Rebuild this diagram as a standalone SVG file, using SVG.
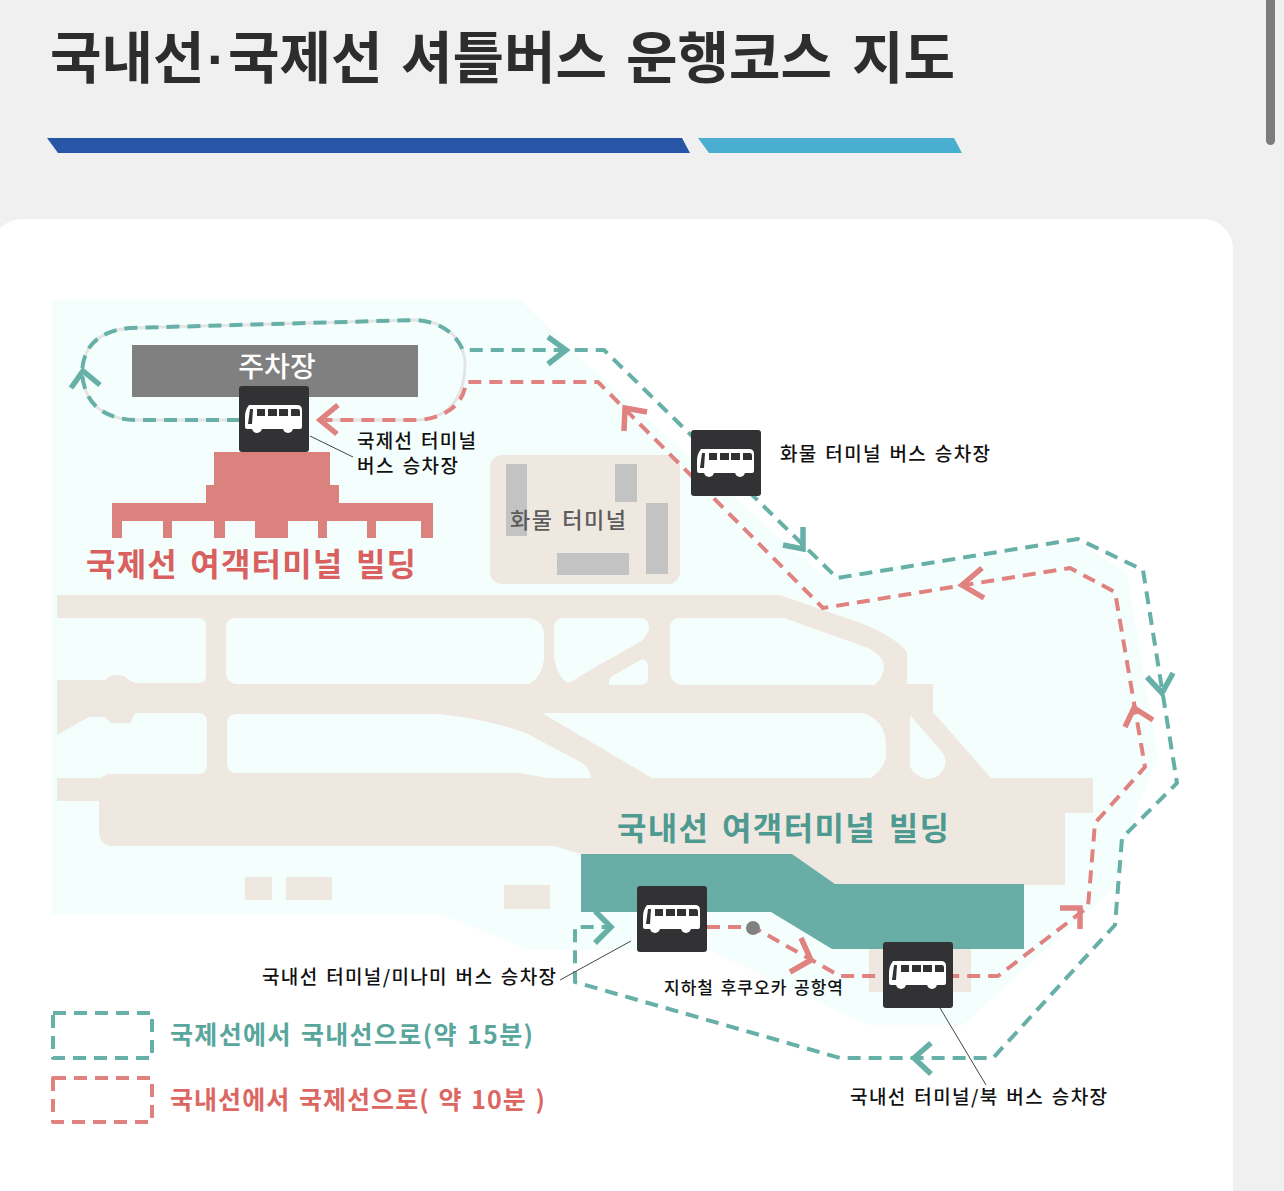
<svg xmlns="http://www.w3.org/2000/svg" width="1284" height="1191" viewBox="0 0 1284 1191">
<style>
text{font-family:"Noto Sans CJK KR","Noto Sans",sans-serif}
.lbl{font-size:19px;font-weight:500;fill:#111;word-spacing:2px}
.be{fill:#efe8e1}
.gr{fill:#f4fffd}
.cg{fill:#c3c3c3}
.d{fill:none;stroke-width:4;stroke-dasharray:13 8;stroke-linejoin:round}
.t{stroke:#67b0a7}
.r{stroke:#e08280}
.h{fill:none;stroke-width:5.5}
.lead{stroke:#444;stroke-width:1;fill:none}
.bx{fill:#323234}
</style>
<defs>
<g id="bus">
<rect class="bx" width="70" height="66" rx="3"/>
<path fill="#fff" d="M10 19H58Q63 19 63 24V41Q63 43 61 43H8Q6 43 6 41V31Q6 24 10 19Z"/>
<circle cx="18" cy="42" r="5" fill="#fff"/><circle cx="49" cy="42" r="5" fill="#fff"/>
<path class="bx" d="M11 23H14L13 38H9ZM18 23H26V30H18ZM29 23H38V30H29ZM40 23H49V30H40ZM52 23H59Q61 23 61 26V30H52Z"/>
</g>
</defs>
<rect width="1284" height="1191" fill="#f0f0f0"/>
<rect id="scrollbar" x="1266" y="-10" width="9" height="155" rx="4.5" fill="#7c7c7c"/>
<g id="header">
<text y="78" font-size="56" font-weight="700" fill="#2d2d2d"><tspan x="50">국내선</tspan><tspan x="207" font-family="Liberation Sans">·</tspan><tspan x="228">국제선</tspan> <tspan x="401">셔틀버스</tspan> <tspan x="626">운행코스</tspan> <tspan x="852">지도</tspan></text>
<path d="M47 138H682L690 153H58Z" fill="#2756a7"/>
<path d="M698 138H954L962 153H709Z" fill="#4aaed1"/>
</g>
<rect x="-8" y="219" width="1241" height="1012" rx="30" fill="#fff"/>
<path id="ground" class="gr" d="M52 300H520L579 357L821 575L1079 543L1127 573L1158 757L1138 805L1112 890L963 1025H867L709 950H530L440 914H52Z"/>
<g id="airfield">
<path class="be" d="M57 595H780L866 625Q900 640 907 653V684H933V712L991 778H1093V813H1065V885H835L792 854H581L554 846H111Q99 844 99 831V801H57V778H100L108 774H198Q207 774 207 765V722Q207 713 198 713H137Q133 713 131 723H111L105 717H89L57 735V680H105Q110 675 118 675Q125 675 129 680L135 683H198Q206 683 206 675V626Q206 618 198 618H57Z"/>
<path class="gr" d="M236 618H528Q544 620 544 636V660Q540 680 528 684H236Q226 682 226 672V628Q226 618 236 618ZM564 618H640Q649 618 649 628Q648 636 640 642L590 670Q575 680 568 683Q558 678 554 658V630Q554 618 564 618ZM642 659Q648 660 648 668V678Q648 685 640 685H609V680Q610 677 614 675ZM237 714H439Q490 720 526 733L582 763Q591 770 591 778H548L520 773H237Q227 773 227 763V724Q227 714 237 714ZM542 713H864Q886 722 886 745V758Q882 772 870 778H652ZM680 618H784L868 648Q884 656 884 668Q882 680 874 685H684Q670 684 670 672V628Q670 618 680 618ZM910 715L942 752Q948 760 944 768Q938 779 929 779Q915 777 910 767Z"/>
<rect class="be" x="245" y="877" width="27" height="23"/>
<rect class="be" x="286" y="877" width="46" height="23"/>
<rect class="be" x="504" y="885" width="46" height="24"/>
<rect class="be" x="869" y="945" width="102" height="47"/>
</g>
<g id="parking">
<rect x="132" y="345" width="286" height="52" fill="#808080"/>
<text x="277" y="377" font-size="28" font-weight="500" fill="#fff" text-anchor="middle">주차장</text>
</g>
<g id="intl-terminal">
<path d="M214 452H330V485H339V503H433V538H421V521H376V538H367V521H327V538H318V521H288V538H255V521H225V538H214V521H172V538H163V521H122V538H112V503H206V485H214Z" fill="#db817e"/>
<text x="86" y="576" font-size="32" font-weight="700" fill="#d9605f" word-spacing="4" textLength="330">국제선 여객터미널 빌딩</text>
</g>
<g id="cargo-terminal">
<rect class="be" x="490" y="455" width="190" height="129" rx="12"/>
<rect class="cg" x="506" y="464" width="21" height="72"/>
<rect class="cg" x="615" y="464" width="22" height="38"/>
<rect class="cg" x="646" y="503" width="22" height="71"/>
<rect class="cg" x="557" y="553" width="72" height="22"/>
<text x="510" y="528" font-size="22" font-weight="500" fill="#5c5c5c" word-spacing="2" textLength="116">화물 터미널</text>
</g>
<g id="domestic-terminal">
<path d="M581 854H792L835 884H1024V949H832L771 912H581Z" fill="#69aea6"/>
<text x="617" y="840" font-size="32" font-weight="700" fill="#4f9a90" word-spacing="4" textLength="332">국내선 여객터미널 빌딩</text>
</g>
<g id="connectors">
<path d="M240 420H135Q85 418 82 372Q84 332 130 328L415 320Q458 322 465 360Q466 415 420 420H325" fill="none" stroke="#e4e4e4" stroke-width="3"/>
<path class="d t" d="M240 420H135Q85 418 82 372Q84 332 130 328L415 320Q450 322 463 350H604L837 578L1078 539L1143 570L1177 783L1122 838L1115 925L993 1058H840L575 982V927H610"/>
<path class="d r" d="M707 927H753L840 976H998L1088 907L1095 823L1145 767L1115 592L1070 568L823 608L598 382H466Q462 415 420 420H325"/>
<path class="h t" d="M71 388L83 371L100 385M548 337L566 350L548 364M803 527V549L783 545M1147 677L1162 693L1173 673M931 1043L914 1058L931 1074M595 911L611 927L595 943"/>
<path class="h r" d="M338 405L320 420L337 434M624 431L625 408L647 412M982 568L962 585L984 598M1125 727L1134 708L1153 720M1060 908H1080V929M801 938L811 960L790 972"/>
<circle cx="753" cy="928" r="7" fill="#808080"/>
<path class="lead" d="M310 436L353 457M631 941L560 980M940 1008L986 1085"/>
</g>
<g id="stop-intl"><use href="#bus" x="239" y="386"/>
<text class="lbl" x="357" y="448" textLength="119">국제선 터미널</text><text class="lbl" x="357" y="473" textLength="101">버스 승차장</text></g>
<g id="stop-cargo"><use href="#bus" x="691" y="430"/>
<text class="lbl" x="780" y="461" textLength="210">화물 터미널 버스 승차장</text></g>
<g id="stop-minami"><use href="#bus" x="637" y="886"/>
<text class="lbl" x="262" y="984" textLength="294">국내선 터미널/미나미 버스 승차장</text></g>
<g id="stop-north"><use href="#bus" x="883" y="942"/>
<text class="lbl" x="850" y="1104" textLength="257">국내선 터미널/북 버스 승차장</text></g>
<g id="station"><text class="lbl" x="664" y="994" style="font-size:17px" textLength="179">지하철 후쿠오카 공항역</text></g>
<g id="legend">
<rect class="d t" x="53" y="1013" width="99" height="45"/>
<rect class="d r" x="53" y="1078" width="99" height="44"/>
<text x="170" y="1044" font-size="25" font-weight="700" fill="#58a69c" word-spacing="2" textLength="363">국제선에서 국내선으로(약 15분)</text>
<text x="170" y="1109" font-size="25" font-weight="700" fill="#dc6662" word-spacing="2" textLength="375">국내선에서 국제선으로( 약 10분 )</text>
</g>
</svg>
